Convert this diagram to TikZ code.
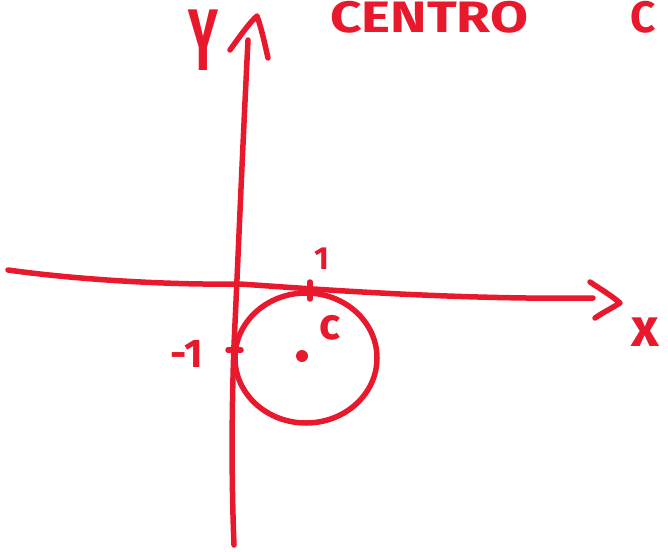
\documentclass[tikz,border=0pt]{standalone}
\usepackage{fontspec}
\setmainfont{Fira Sans}
\definecolor{pen}{HTML}{E8192C}
\begin{document}
\begin{tikzpicture}[x=1pt,y=-1pt,
  ink/.style={draw=pen,line width=5.5pt,line cap=round,line join=round},
  lbl/.style={text=pen,font=\bfseries,inner sep=0pt}]
\useasboundingbox (0,0) rectangle (668,551);
\clip (0,0) rectangle (668,551);
% y axis
\draw[ink] (234,545) .. controls (231,470) and (232,400) .. (234,345)
  .. controls (238,260) and (242,160) .. (248,40);
\draw[ink] (230,50) .. controls (240,36) and (250,22) .. (257,16) .. controls (262,30) and (265,45) .. (268,58);
% x axis
\draw[ink] (8,270) .. controls (80,280) and (170,285) .. (240,284)
  .. controls (300,288) and (450,300) .. (593,298);
\draw[ink] (590,282) .. controls (602,290) and (612,296) .. (620,303) .. controls (612,308) and (602,313) .. (595,318);
% ticks
\draw[ink] (310,282) -- (310,299);
\draw[ink] (228,350) -- (241,350);
% circle
\draw[ink] (306,358) ellipse [x radius=71, y radius=65];
\fill[pen] (302,356) circle (6);
% labels
\node[lbl,font=\bfseries\fontsize{50}{50}\selectfont,yscale=1.75] (ylab) at (203,40) {Y};
\node[lbl,font=\bfseries\fontsize{32}{32}\selectfont] (one) at (322,259) {1};
\node[lbl,font=\bfseries\fontsize{40}{40}\selectfont] (mone) at (187,354) {-1};
\node[lbl,font=\bfseries\fontsize{44}{44}\selectfont] (clab) at (330,328) {c};
\node[lbl,font=\bfseries\fontsize{54}{54}\selectfont] (xlab) at (645,332) {x};
\node[lbl,font=\bfseries\fontsize{44}{44}\selectfont,anchor=base west,xscale=1.25] (title) at (330,33) {CENTRO};
\node[lbl,font=\bfseries\fontsize{44}{44}\selectfont,anchor=base west] (title2) at (630,33) {C};
\end{tikzpicture}
\end{document}
